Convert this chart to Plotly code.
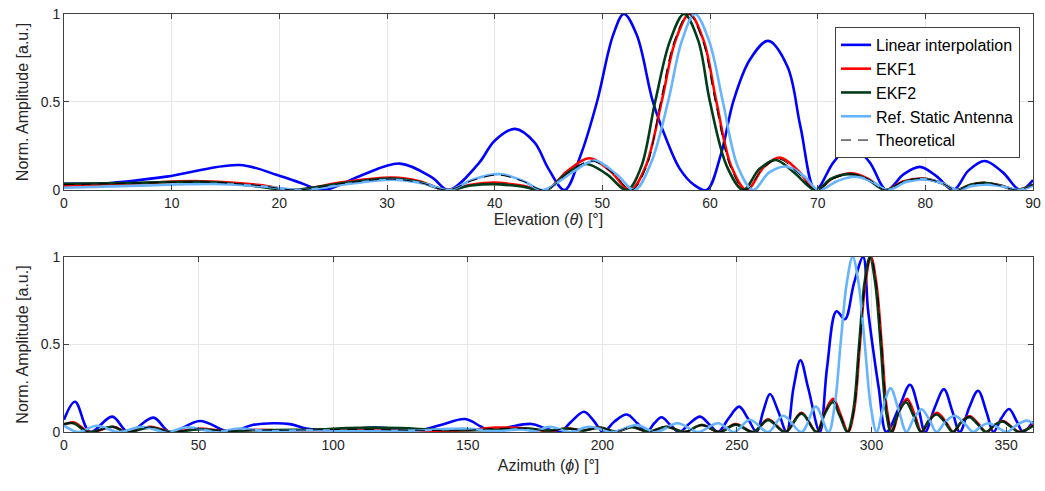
import plotly.graph_objects as go
from plotly.subplots import make_subplots

# ---------------- Elevation (top) ----------------
el_lin_x = [0, 4.3, 9.5, 16.3, 19.8, 22, 24.1, 27.5, 31.2, 34.2, 35.7, 38.5, 40, 41.9, 43.7, 45, 46.5,
            48.0, 49.5, 51.0, 52.0, 53.2, 54.7, 56.0, 57.2, 58.5, 59.7, 61.0, 62.2, 63.7, 65.4, 67.2, 68.4, 69.8,
            71.5, 73.1, 74.8, 76.4, 78.0, 79.5, 81.0, 82.6, 84.0, 85.5, 87.2, 88.8, 90]
el_lin_y = [0.035, 0.04, 0.076, 0.142, 0.085, 0.04, 0.0, 0.08, 0.15, 0.07, 0.0, 0.15, 0.28, 0.347, 0.27, 0.12, 0.0,
            0.2, 0.5, 0.88, 1.0, 0.88, 0.5, 0.28, 0.12, 0.03, 0.0, 0.2, 0.51, 0.74, 0.847, 0.70, 0.36, 0.0,
            0.16, 0.25, 0.16, 0.0, 0.09, 0.131, 0.08, 0.0, 0.11, 0.165, 0.1, 0.0, 0.057]

el_ekf1_x = [0, 6, 12.6, 18.2, 21.3, 26, 30.5, 33, 35.5, 37.8, 39.9, 42.5, 44.8, 46.8, 48.8, 50.7, 52.6,
             54.0, 55.5, 56.8, 58.1, 59.4, 60.6, 62.0, 63.4, 65.0, 66.5, 68.2, 69.8, 71.5, 73.2, 74.8, 76.3,
             78.0, 79.8, 81.5, 82.9, 84.2, 85.6, 87.0, 88.5, 90]
el_ekf1_y = [0.025, 0.035, 0.05, 0.028, 0.0, 0.045, 0.07, 0.05, 0.0, 0.03, 0.042, 0.025, 0.0, 0.11, 0.18, 0.11, 0.0,
             0.13, 0.5, 0.85, 1.0, 0.85, 0.5, 0.13, 0.0, 0.13, 0.184, 0.11, 0.0, 0.07, 0.095, 0.06, 0.0,
             0.05, 0.065, 0.04, 0.0, 0.03, 0.04, 0.025, 0.0, 0.028]

el_ekf2_x = [0, 6, 13, 18, 21, 26, 30.3, 33, 35.5, 37.8, 39.9, 42.5, 44.8, 46.6, 48.5, 50.4, 52.3,
             53.6, 54.9, 56.3, 57.6, 58.9, 60.0, 61.6, 63.1, 64.6, 66.1, 67.8, 69.8, 71.3, 73.0, 74.6, 76.3,
             78.0, 79.8, 81.5, 82.9, 84.2, 85.6, 87.0, 88.5, 90]
el_ekf2_y = [0.035, 0.04, 0.046, 0.02, 0.0, 0.04, 0.065, 0.045, 0.0, 0.025, 0.033, 0.02, 0.0, 0.09, 0.148, 0.09, 0.0,
             0.13, 0.5, 0.85, 1.0, 0.85, 0.5, 0.13, 0.0, 0.12, 0.17, 0.1, 0.0, 0.065, 0.09, 0.06, 0.0,
             0.045, 0.063, 0.04, 0.0, 0.03, 0.04, 0.025, 0.0, 0.03]

el_ref_x = [0, 7, 14, 18.5, 22.2, 26.5, 30.5, 33.5, 35.8, 38, 40.5, 42.7, 44.5, 47.2, 49.3, 51.3, 53.0,
            54.5, 56.1, 57.4, 58.6, 59.9, 61.2, 62.6, 64.0, 65.5, 67.1, 68.7, 70.1, 71.8, 73.4, 75.0, 76.5,
            78.2, 79.8, 81.5, 83.0, 84.3, 85.8, 87.2, 88.6, 90]
el_ref_y = [0.013, 0.025, 0.034, 0.02, 0.0, 0.035, 0.058, 0.035, 0.0, 0.06, 0.09, 0.05, 0.0, 0.1, 0.167, 0.09, 0.0,
            0.15, 0.5, 0.85, 1.0, 0.85, 0.5, 0.13, 0.0, 0.1, 0.133, 0.08, 0.0, 0.05, 0.075, 0.05, 0.0,
            0.045, 0.06, 0.04, 0.0, 0.022, 0.03, 0.02, 0.0, 0.025]

el_theo_x = [0, 6, 13, 18.2, 21.6, 26.2, 30.5, 33.2, 35.6, 38, 40.3, 42.6, 44.7, 46.9, 48.9, 50.9, 52.7,
             54.1, 55.4, 56.7, 58.0, 59.3, 60.5, 61.9, 63.3, 64.9, 66.4, 68.1, 69.9, 71.5, 73.2, 74.8, 76.3,
             78.0, 79.8, 81.5, 82.9, 84.2, 85.7, 87.0, 88.5, 90]
el_theo_y = [0.03, 0.038, 0.045, 0.025, 0.0, 0.04, 0.062, 0.04, 0.0, 0.055, 0.085, 0.05, 0.0, 0.1, 0.165, 0.1, 0.0,
             0.13, 0.5, 0.85, 1.0, 0.85, 0.5, 0.13, 0.0, 0.12, 0.175, 0.1, 0.0, 0.065, 0.09, 0.06, 0.0,
             0.05, 0.065, 0.04, 0.0, 0.03, 0.04, 0.025, 0.0, 0.03]

# ---------------- Azimuth (bottom) ----------------
az_lin_x = [0, 4.1, 9.7, 17.9, 23.9, 33.2, 39.4, 50.5, 61.7, 70, 77.7, 84, 90, 97, 106, 115, 125, 132, 140, 149,
            155, 159, 166, 173.7, 179, 184.2, 188.5, 193.2, 197, 200.3, 204.5, 209.1, 213, 216.5, 219.3, 222,
            225.3, 228.6, 232.5, 236.3, 240, 243, 247, 250.8, 254, 257.3, 259.8, 262.3, 265.3, 268.5, 271,
            273.6, 276.5, 280.8, 283.5, 287, 290.1, 293.5, 296.9, 298.7, 300.8, 302.7, 305.5, 310.5, 314.3,
            317.5, 319.9, 323.5, 326.9, 330, 332.8, 336.3, 339.6, 342.8, 345.3, 348.3, 351.1, 354, 356.3, 360]
az_lin_y = [0.07, 0.173, 0.0, 0.088, 0.0, 0.082, 0.0, 0.063, 0.0, 0.04, 0.05, 0.045, 0.02, 0.012, 0.015, 0.025, 0.015,
            0.01, 0.04, 0.074, 0.03, 0.0, 0.03, 0.046, 0.02, 0.0, 0.06, 0.116, 0.06, 0.0, 0.06, 0.10, 0.05, 0.0,
            0.05, 0.084, 0.04, 0.0, 0.05, 0.088, 0.04, 0.0, 0.08, 0.145, 0.08, 0.0, 0.12, 0.217, 0.12, 0.0, 0.25,
            0.41, 0.25, 0.0, 0.37, 0.69, 0.644, 0.85, 1.0, 0.7, 0.45, 0.25, 0.0, 0.15, 0.27,
            0.13, 0.0, 0.14, 0.244, 0.12, 0.0, 0.14, 0.236, 0.11, 0.0, 0.08, 0.131, 0.06, 0.0, 0.06]

az_ekf1_x = [0, 3.5, 9.7, 18.3, 23.3, 32, 40, 50, 60, 70, 80, 90, 110, 130, 150, 160, 172, 180, 187, 193, 199,
             205, 211, 217, 224, 230.5, 237, 243.5, 249.5, 256.1, 261.6, 268, 274, 279.6, 282.8, 285.8, 288.5,
             291.3, 293.5, 295.7, 297.7, 299.8, 301.8, 303.8, 305.8, 307.7, 310.3, 313.2, 316, 318.6, 321.5,
             324.4, 327.5, 330.4, 333.5, 336.5, 339.5, 342.7, 345.8, 348.9, 352, 355, 360]
az_ekf1_y = [0.04, 0.055, 0.0, 0.03, 0.0, 0.03, 0.0, 0.02, 0.005, 0.012, 0.01, 0.01, 0.01, 0.008, 0.01, 0.025,
             0.02, 0.005, 0.02, 0.01, 0.025, 0.0, 0.03, 0.0, 0.03, 0.0, 0.04, 0.0, 0.045, 0.0, 0.072, 0.0, 0.11,
             0.0, 0.12, 0.19, 0.1, 0.0, 0.12, 0.5, 0.85, 1.0, 0.85, 0.5, 0.12, 0.0, 0.12, 0.19, 0.1, 0.0, 0.07,
             0.11, 0.06, 0.0, 0.06, 0.09, 0.05, 0.0, 0.04, 0.063, 0.03, 0.0, 0.04]

az_ekf2_x = [0, 3.5, 9, 18, 23, 32, 40, 50, 60, 70, 85, 95, 105, 115, 125, 140, 155, 165, 172, 180, 187, 193,
             199, 205, 211, 217, 224, 230.5, 237, 243.5, 249.5, 256.1, 261.6, 268, 274, 279.6, 282.8, 285.6,
             288.3, 291.0, 293.2, 295.4, 297.4, 299.4, 301.4, 303.4, 305.4, 307.3, 310, 312.8, 315.7, 318.4,
             321.3, 324.2, 327.3, 330.2, 333.3, 336.4, 339.4, 342.5, 345.7, 348.7, 351.8, 354.8, 360]
az_ekf2_y = [0.045, 0.05, 0.0, 0.03, 0.0, 0.025, 0.0, 0.015, 0.005, 0.01, 0.012, 0.015, 0.022, 0.025, 0.022,
             0.012, 0.01, 0.015, 0.02, 0.008, 0.02, 0.008, 0.025, 0.003, 0.028, 0.003, 0.03, 0.0, 0.04, 0.0,
             0.042, 0.0, 0.068, 0.0, 0.105, 0.0, 0.11, 0.17, 0.09, 0.0, 0.12, 0.5, 0.85, 1.0, 0.85, 0.5, 0.12,
             0.0, 0.11, 0.17, 0.09, 0.0, 0.065, 0.1, 0.055, 0.0, 0.055, 0.085, 0.045, 0.0, 0.04, 0.06, 0.03,
             0.0, 0.035]

az_ref_x = [0, 5.3, 12.1, 20.2, 28.9, 38.1, 45.6, 56.7, 65, 75, 90, 110, 130, 149, 160, 170, 175, 180.5, 188,
            195, 204, 212.7, 220, 228, 235.5, 243, 249, 254.8, 261.6, 267.2, 274, 279.3, 284.0, 286.3, 288.5,
            290.8, 293, 295.2, 297.5, 299.7, 301.9, 304.5, 307.1, 310, 313, 315.8, 318.6, 321.5, 324.2, 327.5,
            331, 334.5, 337.8, 340.5, 343.4, 346.5, 350.2, 354, 357.6, 360]
az_ref_y = [0.036, 0.0, 0.036, 0.0, 0.03, 0.0, 0.027, 0.0, 0.02, 0.005, 0.01, 0.005, 0.008, 0.02, 0.005, 0.015,
            0.005, 0.03, 0.0, 0.03, 0.0, 0.04, 0.0, 0.05, 0.0, 0.05, 0.0, 0.07, 0.0, 0.093, 0.0, 0.145, 0.0,
            0.15, 0.5, 0.85, 1.0, 0.85, 0.5, 0.15, 0.0, 0.15, 0.25, 0.13, 0.0, 0.08, 0.13, 0.07, 0.0, 0.06,
            0.093, 0.05, 0.0, 0.03, 0.05, 0.03, 0.0, 0.04, 0.065, 0.05]

az_theo_x = az_ekf1_x
az_theo_y = [0.045, 0.052, 0.0, 0.03, 0.0, 0.028, 0.0, 0.018, 0.005, 0.011, 0.01, 0.012, 0.015, 0.01, 0.01, 0.02,
             0.02, 0.006, 0.02, 0.009, 0.025, 0.002, 0.029, 0.002, 0.03, 0.0, 0.04, 0.0, 0.044, 0.0, 0.07, 0.0,
             0.108, 0.0, 0.115, 0.18, 0.095, 0.0, 0.12, 0.5, 0.85, 1.0, 0.85, 0.5, 0.12, 0.0, 0.115, 0.18, 0.095,
             0.0, 0.068, 0.105, 0.058, 0.0, 0.058, 0.088, 0.048, 0.0, 0.04, 0.062, 0.03, 0.0, 0.038]

names = ["Linear interpolation", "EKF1", "EKF2", "Ref. Static Antenna", "Theoretical"]
colors = ["#0000FF", "#FF0000", "#003B1A", "#66B3FF", "#000000"]

top = [(el_lin_x, el_lin_y), (el_ekf1_x, el_ekf1_y), (el_ekf2_x, el_ekf2_y), (el_ref_x, el_ref_y), (el_theo_x, el_theo_y)]
bot = [(az_lin_x, az_lin_y), (az_ekf1_x, az_ekf1_y), (az_ekf2_x, az_ekf2_y), (az_ref_x, az_ref_y), (az_theo_x, az_theo_y)]

fig = make_subplots(rows=2, cols=1, vertical_spacing=0.0)

for i, (name, col) in enumerate(zip(names, colors)):
    if name == "Theoretical":
        line = dict(color=col, width=1, dash="10px,7px", shape="spline", smoothing=1.0)
    else:
        line = dict(color=col, width=2.6, shape="spline", smoothing=1.0)
    x, y = top[i]
    fig.add_trace(go.Scatter(x=x, y=y, mode="lines", name=name, line=line, showlegend=True), row=1, col=1)
    x, y = bot[i]
    fig.add_trace(go.Scatter(x=x, y=y, mode="lines", name=name, line=line, showlegend=False), row=2, col=1)

FONT = "Liberation Sans Narrow, Liberation Sans, Arial, sans-serif"
axis_common = dict(showline=True, mirror="ticks", linecolor="#404040", linewidth=1,
                   ticks="inside", ticklen=5, tickcolor="#404040", automargin=False,
                   showgrid=True, gridcolor="#E6E6E6", gridwidth=1, zeroline=False,
                   tickfont=dict(family=FONT, size=14, color="#262626"))

fig.update_xaxes(**axis_common)
fig.update_yaxes(**axis_common)

fig.update_xaxes(range=[0, 90], tickvals=list(range(0, 91, 10)), row=1, col=1,
                 title=dict(text="Elevation (<i>θ</i>) [°]", font=dict(family=FONT, size=16, color="#262626"), standoff=0))
fig.update_xaxes(range=[0, 360], tickvals=list(range(0, 351, 50)), row=2, col=1,
                 title=dict(text="Azimuth (<i>ϕ</i>) [°]", font=dict(family=FONT, size=16, color="#262626"), standoff=8))
for r in (1, 2):
    fig.update_yaxes(range=[0, 1], tickvals=[0, 0.5, 1], ticktext=["0", "0.5", "1"], row=r, col=1,
                     title=dict(text="Norm. Amplitude [a.u.]", font=dict(family=FONT, size=16, color="#262626"), standoff=8))

fig.update_layout(
    width=1045, height=491,
    margin=dict(l=64, r=12, t=14, b=59),
    paper_bgcolor="white", plot_bgcolor="white",
    font=dict(family=FONT, color="#262626"),
    yaxis=dict(domain=[0.579, 1.0]),
    yaxis2=dict(domain=[0.0, 0.4187]),
    xaxis=dict(domain=[0, 1]), xaxis2=dict(domain=[0, 1]),
    legend=dict(x=0.9866, y=0.969, xanchor="right", yanchor="top",
                bgcolor="white", bordercolor="#404040", borderwidth=1,
                font=dict(family=FONT, size=16, color="#000000"), tracegroupgap=0),
)

fig.write_html("out.html")
